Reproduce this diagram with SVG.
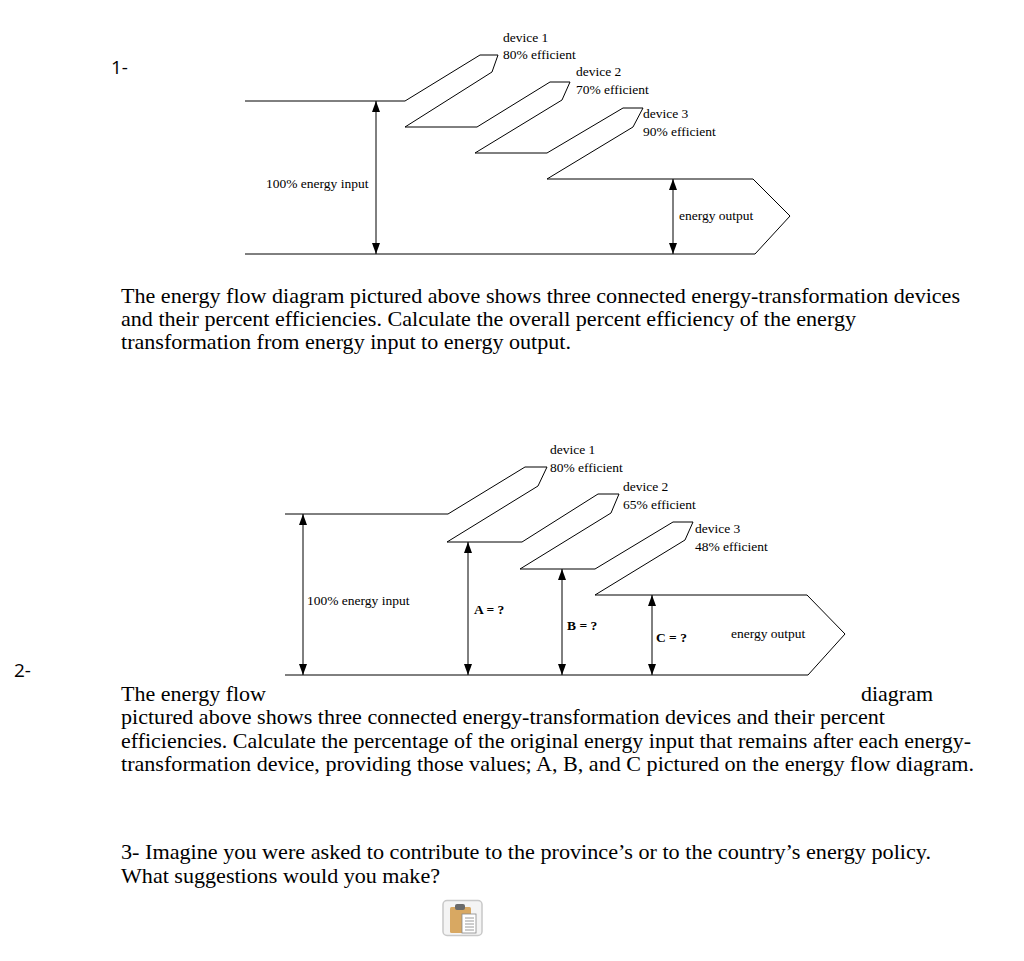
<svg xmlns="http://www.w3.org/2000/svg" width="1024" height="961" viewBox="0 0 1024 961">
<style>
.flow{fill:none;stroke:#000;stroke-width:1}
.arr{stroke:#000;stroke-width:1;marker-start:url(#ah);marker-end:url(#ah)}
.lbl{font-family:"Liberation Serif","Times New Roman",serif;font-size:13.5px;fill:#000}
.b{font-weight:bold}
.para{font-family:"Liberation Serif","Times New Roman",serif;font-size:21px;fill:#000}
.num{font-family:"Open Sans","Noto Sans","Liberation Sans",sans-serif;font-size:19px;fill:#000}
</style>
<defs>
<marker id="ah" viewBox="0 0 11 8" refX="11" refY="4" markerWidth="11" markerHeight="8" markerUnits="userSpaceOnUse" orient="auto-start-reverse">
<path d="M0,0 L11,4 L0,8 z" fill="#000"/>
</marker>
</defs>
<rect width="1024" height="961" fill="#fff"/>

<text class="num" x="111" y="74">1-</text>

<g id="diagram1">
  <g id="d1-flow"><path class="flow" d="M245,101 H405 L480,55 H498 L492,72 L405,127 H477 L550,82 H570 L562,100 L475,153 H547 L623,108 H643 L633,127 L547,179 H753 L790,216 L755,254 H245"/></g>
  <g id="d1-device1"><text class="lbl" x="503" y="42">device 1</text><text class="lbl" x="503" y="59">80% efficient</text></g>
  <g id="d1-device2"><text class="lbl" x="576" y="76">device 2</text><text class="lbl" x="576" y="94">70% efficient</text></g>
  <g id="d1-device3"><text class="lbl" x="643" y="118">device 3</text><text class="lbl" x="643" y="136">90% efficient</text></g>
  <g id="d1-input"><text class="lbl" x="266" y="188">100% energy input</text></g>
  <g id="d1-output"><text class="lbl" x="679" y="220">energy output</text></g>
</g>

<g id="question1">
<text class="para" x="121" y="302.6" textLength="839" lengthAdjust="spacingAndGlyphs">The energy flow diagram pictured above shows three connected energy-transformation devices</text>
<text class="para" x="121" y="326" textLength="735" lengthAdjust="spacingAndGlyphs">and their percent efficiencies. Calculate the overall percent efficiency of the energy</text>
<text class="para" x="121" y="349.4" textLength="450" lengthAdjust="spacingAndGlyphs">transformation from energy input to energy output.</text>
</g>

<g id="diagram2">
  <g id="d2-flow"><path class="flow" d="M285,514 H448 L525,467 H547 L538,486 L447,542 H522 L598,494 H619 L611,513 L520,569 H595 L673,522 H693 L685,540 L595,595 H807 L845,634 L808,675 H285"/></g>
  <g id="d2-device1"><text class="lbl" x="550" y="454">device 1</text><text class="lbl" x="550" y="472">80% efficient</text></g>
  <g id="d2-device2"><text class="lbl" x="623" y="491">device 2</text><text class="lbl" x="623" y="509">65% efficient</text></g>
  <g id="d2-device3"><text class="lbl" x="695" y="533">device 3</text><text class="lbl" x="695" y="551">48% efficient</text></g>
  <g id="d2-input"><text class="lbl" x="307" y="605">100% energy input</text></g>
  <g id="d2-A"><text class="lbl b" x="474" y="614">A = ?</text></g>
  <g id="d2-B"><text class="lbl b" x="567" y="630">B = ?</text></g>
  <g id="d2-C"><text class="lbl b" x="656" y="642">C = ?</text></g>
  <g id="d2-output"><text class="lbl" x="731" y="638">energy output</text></g>
</g>

<g id="connectors">
  <line class="arr" x1="376" y1="101" x2="376" y2="254"/>
  <line class="arr" x1="673" y1="179" x2="673" y2="254"/>
  <line class="arr" x1="303" y1="514" x2="303" y2="675"/>
  <line class="arr" x1="468" y1="542" x2="468" y2="675"/>
  <line class="arr" x1="562" y1="569" x2="562" y2="675"/>
  <line class="arr" x1="652" y1="595" x2="652" y2="675"/>
</g>

<text class="num" x="14" y="677">2-</text>

<g id="question2">
<text class="para" x="121" y="700.9" textLength="145" lengthAdjust="spacingAndGlyphs">The energy flow</text>
<text class="para" x="933" y="700.9" text-anchor="end" textLength="72" lengthAdjust="spacingAndGlyphs">diagram</text>
<text class="para" x="121" y="724.3" textLength="764" lengthAdjust="spacingAndGlyphs">pictured above shows three connected energy-transformation devices and their percent</text>
<text class="para" x="121" y="747.7" textLength="850" lengthAdjust="spacingAndGlyphs">efficiencies. Calculate the percentage of the original energy input that remains after each energy-</text>
<text class="para" x="121" y="771.1" textLength="853" lengthAdjust="spacingAndGlyphs">transformation device, providing those values; A, B, and C pictured on the energy flow diagram.</text>
</g>

<g id="question3">
<text class="para" x="121" y="859.3" textLength="810" lengthAdjust="spacingAndGlyphs">3- Imagine you were asked to contribute to the province’s or to the country’s energy policy.</text>
<text class="para" x="121" y="882.7" textLength="319" lengthAdjust="spacingAndGlyphs">What suggestions would you make?</text>
</g>

<g id="clipboard-icon">
  <rect x="443" y="900.5" width="39" height="35" rx="4" fill="#f4f4f4" stroke="#c8c8c8" stroke-width="1.5"/>
  <rect x="450" y="907" width="21" height="26" rx="1.5" fill="#d8a862"/>
  <rect x="455" y="904" width="10" height="6" rx="2" fill="#6a6a6a"/>
  <rect x="462" y="914" width="14" height="19" fill="#fff" stroke="#888" stroke-width="0.8"/>
  <g stroke="#9a9a9a" stroke-width="1">
    <line x1="465" y1="918" x2="474" y2="918"/>
    <line x1="465" y1="921" x2="474" y2="921"/>
    <line x1="465" y1="924" x2="474" y2="924"/>
    <line x1="465" y1="927" x2="474" y2="927"/>
    <line x1="465" y1="930" x2="474" y2="930"/>
  </g>
</g>
</svg>
